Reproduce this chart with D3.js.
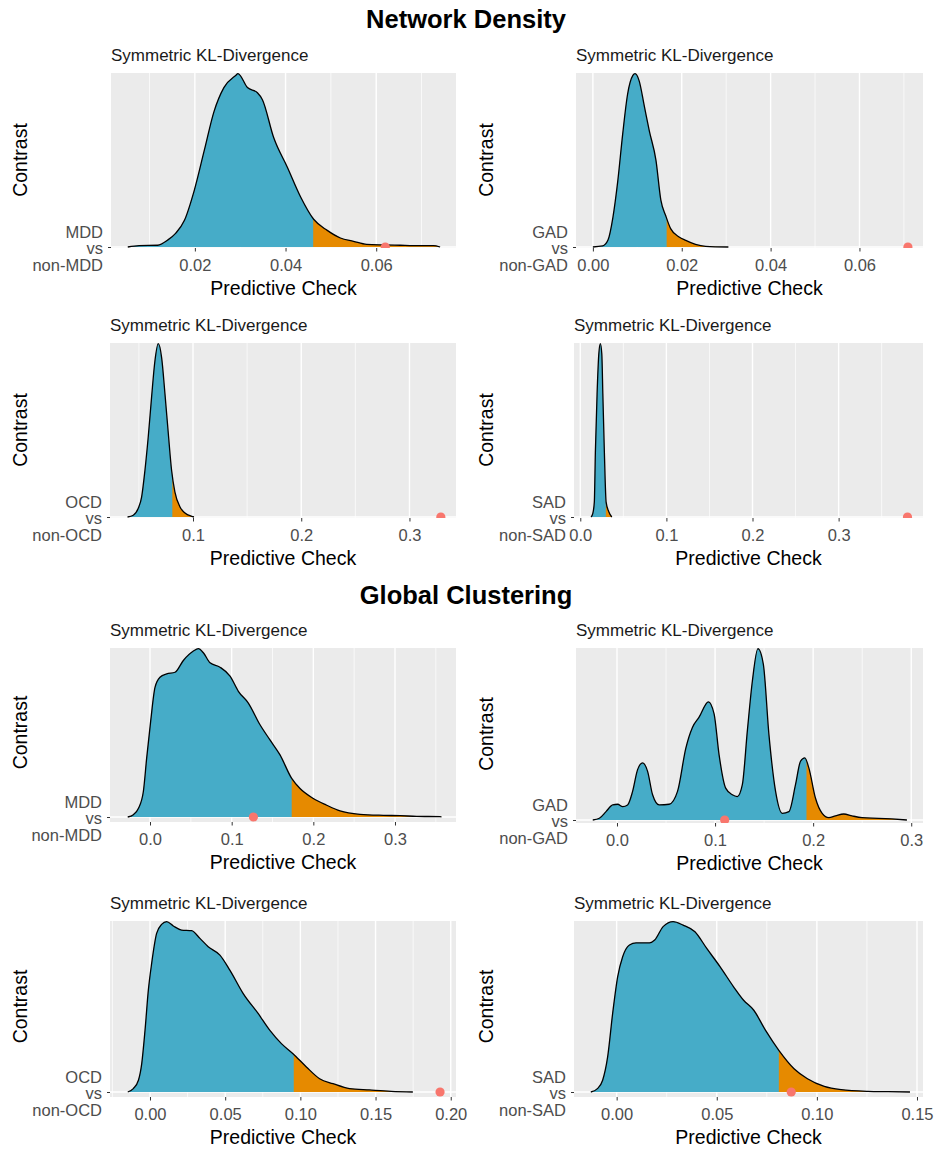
<!DOCTYPE html>
<html>
<head>
<meta charset="utf-8">
<script src="https://cdnjs.cloudflare.com/ajax/libs/d3/7.8.5/d3.min.js"></script>
<style>
	body{margin:0;background:#fff;}
	svg{font-family:"Liberation Sans",Arial,sans-serif;}
	.axis path{display:none;}
	.axis line{stroke:#333;stroke-width:1;}
	.axis text{fill:#4d4d4d;font-size:16.5px;}
</style>
</head>
<body>
<svg id="chart" width="936" height="1149"></svg>
<script>

// values: [predictive check, relative density]
const densityMddNetwork = [[0.0052,0],[0.0077,0.008],[0.0118,0.01],[0.014,0.04],[0.0158,0.08],[0.0177,0.154],[0.0199,0.33],[0.0221,0.56],[0.0242,0.78],[0.0264,0.92],[0.0290,0.99],[0.0295,1.0],[0.0316,0.92],[0.0338,0.89],[0.0349,0.85],[0.0374,0.63],[0.0404,0.46],[0.0433,0.29],[0.0462,0.16],[0.0492,0.096],[0.0521,0.052],[0.0550,0.033],[0.0579,0.015],[0.0616,0.012],[0.0653,0.01],[0.0682,0.008],[0.0726,0.008],[0.0741,0]];
const densityGadNetwork = [[0,0],[0.0022,0.006],[0.0034,0.04],[0.0045,0.17],[0.0056,0.38],[0.0067,0.65],[0.0078,0.88],[0.0090,0.99],[0.0095,1.0],[0.0104,0.96],[0.0116,0.81],[0.0127,0.67],[0.0142,0.5],[0.0153,0.27],[0.0164,0.18],[0.0175,0.106],[0.0194,0.058],[0.0209,0.038],[0.0231,0.015],[0.0254,0.004],[0.0305,0]];
const densityOcdNetwork = [[0.0395,0],[0.0448,0.01],[0.0494,0.05],[0.0525,0.115],[0.0556,0.27],[0.0586,0.46],[0.0617,0.69],[0.0648,0.90],[0.0679,1.0],[0.0710,0.92],[0.0741,0.71],[0.0772,0.48],[0.0802,0.27],[0.0833,0.144],[0.0880,0.058],[0.0926,0.023],[0.0988,0.004],[0.1009,0]];
const densitySadNetwork = [[0.0125,0],[0.0145,0.02],[0.0163,0.086],[0.0175,0.37],[0.0195,0.71],[0.0215,0.94],[0.0233,1.0],[0.0250,0.94],[0.0262,0.71],[0.0280,0.37],[0.0300,0.086],[0.0331,0.03],[0.0366,0]];
const densityMddClustering = [[-0.0273,0],[-0.0204,0.014],[-0.0143,0.05],[-0.0082,0.15],[-0.0041,0.35],[0.0008,0.57],[0.0061,0.77],[0.0122,0.83],[0.0204,0.85],[0.0306,0.86],[0.0408,0.93],[0.0531,0.986],[0.0592,1.0],[0.0653,0.976],[0.0735,0.916],[0.0857,0.89],[0.0980,0.837],[0.1082,0.747],[0.1204,0.677],[0.1347,0.548],[0.1469,0.458],[0.1592,0.369],[0.1735,0.229],[0.1837,0.169],[0.2,0.11],[0.2163,0.07],[0.2327,0.036],[0.2571,0.016],[0.2857,0.01],[0.3061,0.008],[0.3265,0.004],[0.3551,0.002],[0.357,0]];
const densityGadClustering = [[-0.0247,0],[-0.018,0.01],[-0.0112,0.049],[-0.0044,0.088],[0.0007,0.092],[0.0058,0.078],[0.0108,0.088],[0.0159,0.167],[0.021,0.294],[0.0261,0.333],[0.0312,0.284],[0.0363,0.147],[0.043,0.088],[0.0532,0.092],[0.0617,0.167],[0.0702,0.42],[0.0769,0.54],[0.0837,0.6],[0.0932,0.69],[0.099,0.62],[0.1041,0.38],[0.1108,0.186],[0.1176,0.147],[0.1227,0.137],[0.1278,0.206],[0.1329,0.52],[0.138,0.81],[0.1437,1.0],[0.1492,0.91],[0.1549,0.5],[0.1617,0.167],[0.1685,0.039],[0.1753,0.049],[0.182,0.206],[0.1871,0.343],[0.1915,0.363],[0.1956,0.304],[0.2024,0.127],[0.2092,0.039],[0.2159,0.014],[0.2227,0.024],[0.2312,0.035],[0.2397,0.024],[0.2498,0.014],[0.2668,0.01],[0.2803,0.006],[0.2956,0]];
const densityOcdClustering = [[-0.0148,0],[-0.0111,0.02],[-0.0077,0.069],[-0.0055,0.167],[-0.0033,0.363],[-0.0011,0.598],[0.0011,0.755],[0.0044,0.931],[0.0077,0.984],[0.0111,1.0],[0.0155,0.975],[0.021,0.951],[0.0277,0.947],[0.0332,0.902],[0.0387,0.853],[0.0465,0.804],[0.0531,0.716],[0.062,0.578],[0.0719,0.461],[0.0796,0.363],[0.0874,0.284],[0.0951,0.225],[0.104,0.147],[0.1128,0.078],[0.1217,0.049],[0.1327,0.02],[0.146,0.012],[0.1604,0.004],[0.1748,0]];
const densitySadClustering = [[-0.0129,0],[-0.0096,0.02],[-0.007,0.069],[-0.0045,0.206],[-0.002,0.461],[0.0005,0.676],[0.003,0.794],[0.0064,0.863],[0.0097,0.876],[0.0164,0.876],[0.019,0.892],[0.0232,0.971],[0.0282,1.0],[0.0332,0.98],[0.0391,0.941],[0.045,0.843],[0.0517,0.735],[0.0584,0.618],[0.0634,0.539],[0.0685,0.48],[0.0743,0.363],[0.081,0.245],[0.0886,0.137],[0.0953,0.078],[0.1037,0.033],[0.1121,0.014],[0.1255,0.004],[0.1356,0.002],[0.1465,0]];

const groups = ['MDD','GAD','OCD','SAD','MDD','GAD','OCD','SAD'];
const cutoffs = [0.0461, 0.0166, 0.0809, 0.0297, 0.1735, 0.1932, 0.0956, 0.0810];
const observed = [0.0620, 0.0709, 0.3290, 0.3800, 0.1266, 0.1098, 0.1929, 0.0872];
const xDomains = [[0.0015,0.0776],[-0.0038,0.0743],[0.0233,0.343],[-0.0073,0.398],[-0.049,0.3747],[-0.0418,0.312],[-0.0266,0.2035],[-0.0213,0.153]];
const xTicks = [[0.02,0.04,0.06],[0,0.02,0.04,0.06],[0.1,0.2,0.3],[0,0.1,0.2,0.3],[0,0.1,0.2,0.3],[0,0.1,0.2,0.3],[0,0.05,0.1,0.15,0.2],[0,0.05,0.1,0.15]];
const tickFormats = ['.2f','.2f','.1f','.1f','.1f','.1f','.2f','.2f'];
const sectionTitles = ['Network Density','Global Clustering'];
const panelTitle = 'Symmetric KL-Divergence';
const xTitle = 'Predictive Check';
const yTitle = 'Contrast';

const densities = [densityMddNetwork,densityGadNetwork,densityOcdNetwork,densitySadNetwork,
	densityMddClustering,densityGadClustering,densityOcdClustering,densitySadClustering];

// panel boxes in pixels
const boxes = [
	{x0:111,x1:456,top:73,base:247,bottom:248,yt:27},
	{x0:576,x1:923,top:73,base:247,bottom:248,yt:493},
	{x0:110,x1:456,top:343,base:517,bottom:518,yt:27},
	{x0:574,x1:923,top:343,base:517,bottom:518,yt:493},
	{x0:110,x1:456,top:648,base:817,bottom:822,yt:27},
	{x0:576,x1:923,top:648,base:820,bottom:823,yt:493},
	{x0:110,x1:456,top:921,base:1092,bottom:1097,yt:27},
	{x0:574,x1:923,top:921,base:1092,bottom:1097,yt:493}
];

const svg = d3.select('#chart');
const defs = svg.append('defs');

////////////////////////////////////////////////////////////////////

svg.selectAll('.section-title')
	.data(sectionTitles)
	.enter().append('text')
	.attr('class','section-title')
	.attr('x', 466)
	.attr('y', (d,i) => i === 0 ? 28 : 604)
	.attr('text-anchor','middle')
	.style('font-size','25.5px')
	.style('font-weight','bold')
	.text(d => d);

////////////////////////////////////////////////////////////////////

boxes.forEach((b,i) => {

	const g = svg.append('g').attr('class','panel');
	const w = b.x1 - b.x0;

	const scaleX = d3.scaleLinear().domain(xDomains[i]).range([b.x0, b.x1]);
	const scaleY = d3.scaleLinear().domain([0,1]).range([b.base, b.top + 0.7]);

	// background + grid
	g.append('rect')
		.attr('x', b.x0).attr('y', b.top)
		.attr('width', w).attr('height', b.bottom - b.top)
		.attr('fill', '#ebebeb');

	const ticks = xTicks[i];
	const step = ticks[1] - ticks[0];
	const minor = [ticks[0] - step/2].concat(ticks.map(t => t + step/2))
		.filter(t => t > xDomains[i][0] && t < xDomains[i][1]);

	g.selectAll('.minor')
		.data(minor)
		.enter().append('line')
		.attr('x1', d => scaleX(d)).attr('x2', d => scaleX(d))
		.attr('y1', b.top).attr('y2', b.bottom)
		.attr('stroke', '#fff').attr('stroke-width', 0.7);

	g.selectAll('.major')
		.data(ticks)
		.enter().append('line')
		.attr('x1', d => scaleX(d)).attr('x2', d => scaleX(d))
		.attr('y1', b.top).attr('y2', b.bottom)
		.attr('stroke', '#fff').attr('stroke-width', 1.4);

	g.append('line')
		.attr('x1', b.x0).attr('x2', b.x1)
		.attr('y1', b.base).attr('y2', b.base)
		.attr('stroke', '#fff').attr('stroke-width', 1.4);

	// clip paths
	defs.append('clipPath').attr('id', 'clip' + i)
		.append('rect')
		.attr('x', b.x0).attr('y', b.top)
		.attr('width', w).attr('height', b.bottom - b.top);

	defs.append('clipPath').attr('id', 'tail' + i)
		.append('rect')
		.attr('x', scaleX(cutoffs[i])).attr('y', b.top - 5)
		.attr('width', b.x1 - scaleX(cutoffs[i])).attr('height', b.bottom - b.top + 10);

	const plot = g.append('g').attr('clip-path', `url(#clip${i})`);

	const area = d3.area()
		.x(d => scaleX(d[0]))
		.y0(b.base)
		.y1(d => scaleY(d[1]))
		.curve(d3.curveMonotoneX);

	const line = d3.line()
		.x(d => scaleX(d[0]))
		.y(d => scaleY(d[1]))
		.curve(d3.curveMonotoneX);

	plot.append('path')
		.datum(densities[i])
		.attr('d', area)
		.attr('fill', '#46acc8');

	plot.append('path')
		.datum(densities[i])
		.attr('d', area)
		.attr('clip-path', `url(#tail${i})`)
		.attr('fill', '#e68a00');

	plot.append('path')
		.datum(densities[i])
		.attr('d', line)
		.attr('fill', 'none')
		.attr('stroke', '#000')
		.attr('stroke-width', 1.3);

	plot.selectAll('.obs')
		.data([observed[i]])
		.enter().append('circle')
		.attr('class','obs')
		.attr('cx', d => scaleX(d))
		.attr('cy', b.base)
		.attr('r', 4.6)
		.attr('fill', '#f8766d');

	// axes
	const axisX = d3.axisBottom(scaleX)
		.tickValues(ticks)
		.tickFormat(d3.format(tickFormats[i]))
		.tickSize(3.5)
		.tickPadding(7.3);
	g.append('g')
		.attr('class','axis axis-x')
		.attr('transform', `translate(0,${b.bottom})`)
		.call(axisX);

	const label = groups[i] + ' vs non-' + groups[i];
	const scaleCat = d3.scaleOrdinal().domain([label]).range([b.base]);
	const axisY = d3.axisLeft(scaleCat).tickSize(3).tickPadding(5);
	const axisYNode = g.append('g')
		.attr('class','axis axis-y')
		.attr('transform', `translate(${b.x0},0)`)
		.call(axisY);
	axisYNode.selectAll('.tick text')
		.text(null)
		.attr('dy', null)
		.each(function(){
			const t = d3.select(this);
			const lines = [groups[i], 'vs', 'non-' + groups[i]];
			const offsets = [-10, 6.3, 23.3];
			lines.forEach((s,k) => {
				t.append('tspan')
					.attr('x', -8)
					.attr('y', offsets[k])
					.text(s);
			});
		});

	// titles
	g.append('text')
		.attr('x', b.x0)
		.attr('y', b.top - 11.6)
		.style('font-size','17px')
		.attr('fill','#1a1a1a')
		.text(panelTitle);

	g.append('text')
		.attr('x', b.x0 + w/2)
		.attr('y', b.bottom + 46.5)
		.attr('text-anchor','middle')
		.style('font-size','19.5px')
		.text(xTitle);

	g.append('text')
		.attr('transform', `translate(${b.yt},${(b.top + b.base)/2}) rotate(-90)`)
		.attr('text-anchor','middle')
		.style('font-size','19.5px')
		.text(yTitle);
});

</script>
</body>
</html>
